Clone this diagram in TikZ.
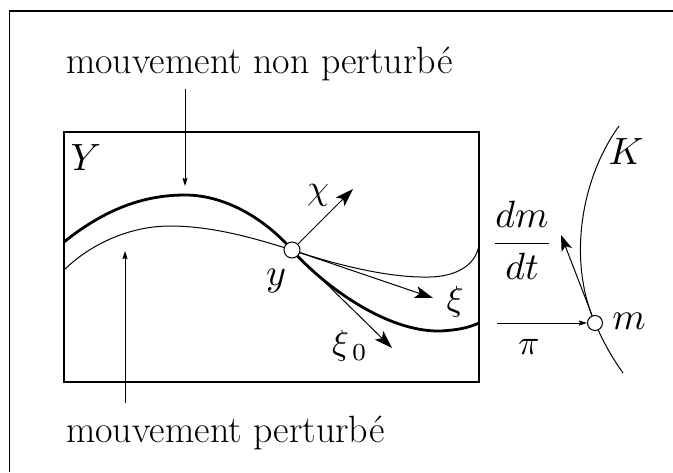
\documentclass[tikz,border=0pt]{standalone}
\usepackage{graphicx}
\usepackage{fontspec}
\usetikzlibrary{arrows.meta}
\newcommand\mybigmath[1]{\scalebox{3.8}{$#1$}}
\newcommand\mygreek[1]{\scalebox{3.5}{$#1$}}
\begin{document}
\begin{tikzpicture}[x=1pt,y=-1pt,
  big/.style={font=\fontsize{38}{44}\selectfont, inner sep=0pt},
  mathlbl/.style={inner sep=0pt},
  bigarrow/.style={line width=1pt,-{Stealth[length=18pt,width=12pt,inset=4pt]}},
  smallarrow/.style={line width=0.9pt,-{Stealth[length=8pt,width=5pt,inset=1pt]}},
  dotnode/.style={circle,draw,fill=white,line width=1pt,minimum size=16pt,inner sep=0pt},
  thin/.style={line width=1pt},
  thick/.style={line width=2.8pt}]
\useasboundingbox (0,0) rectangle (673,472);
% outer frame
\draw[line width=1.2pt] (9.5,472) -- (9.5,11) -- (673,11);
% box Y
\draw[line width=1.3pt] (64,132) rectangle (479,382);
% curves
\draw[thick] (64,242) .. controls (110,205) and (150,195) .. (185,195)
  .. controls (228,195) and (268,222) .. (292,250)
  .. controls (322,284) and (385,332) .. (440,331)
  .. controls (460,330) and (470,327) .. (479,323);
\draw[thin] (64,270) .. controls (95,240) and (135,226) .. (170,226)
  .. controls (215,226) and (260,240) .. (292,250)
  .. controls (340,266) and (390,278) .. (430,277)
  .. controls (465,276) and (479,258) .. (479,242);
% K curve
\draw[thin] (619,126) .. controls (580,180) and (568,262) .. (595,323)
  .. controls (606,348) and (614,360) .. (623,373);
% points
\node[dotnode] (y) at (292,250) {};
\node[dotnode, minimum size=15pt] (m) at (595,323) {};
% arrow ends
\coordinate (chitip) at (353,189);
\coordinate (xitip) at (433,298);
\coordinate (xi0tip) at (392,348);
\coordinate (dmtip) at (561,235);
\coordinate (pistart) at (497,323);
\coordinate (a1s) at (185,89);
\coordinate (a1e) at (185,186);
\coordinate (a2s) at (125,403);
\coordinate (a2e) at (125,251);
\draw[bigarrow] (y) -- (chitip);
\draw[bigarrow] (y) -- (xitip);
\draw[bigarrow] (y) -- (xi0tip);
\draw[line width=1pt,-{Stealth[length=16pt,width=11pt,inset=4pt]}] (m) -- (dmtip);
\draw[smallarrow] (pistart) -- (m);
\draw[smallarrow] (a1s) -- (a1e);
\draw[smallarrow] (a2s) -- (a2e);
% labels
\node[big, anchor=base west] (top) at (66,73) {mouvement non perturbé};
\node[big, anchor=base west] (bot) at (66,442) {mouvement perturbé};
\node[mathlbl] (Y) at (86,158) {\mybigmath{Y}};
\node[mathlbl] (ylbl) at (276,281) {\mybigmath{y}};
\node[mathlbl] (K) at (626,152) {\mybigmath{K}};
\node[mathlbl] (mlbl) at (629,321) {\mybigmath{m}};
\node[mathlbl] (dmdt) at (522,240) {\mybigmath{\displaystyle\frac{dm}{dt}}};
\node[mathlbl] (chi) at (318,195) {\mygreek{\chi}};
\node[mathlbl] (xi) at (455,302) {\mygreek{\xi}};
\node[mathlbl] (xi0) at (350,346) {\mygreek{\xi_{\,0}}};
\node[mathlbl] (pi) at (529,347) {\mygreek{\pi}};
\end{tikzpicture}
\end{document}
